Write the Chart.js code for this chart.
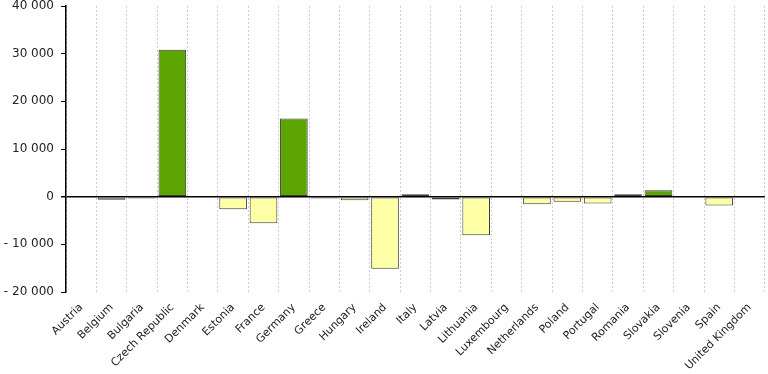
<!DOCTYPE html>
<html>
<head>
<meta charset="utf-8">
<script src="https://cdn.jsdelivr.net/npm/chart.js@4"></script>
<style>
  html, body { margin: 0; padding: 0; background: #fff; overflow: hidden; }
  #wrap { position: relative; width: 768px; height: 374px; }
</style>
</head>
<body>
<div id="wrap"><canvas id="chart"></canvas></div>
<script>
const countries = [
  "Austria", "Belgium", "Bulgaria", "Czech Republic", "Denmark", "Estonia",
  "France", "Germany", "Greece", "Hungary", "Ireland", "Italy", "Latvia",
  "Lithuania", "Luxembourg", "Netherlands", "Poland", "Portugal", "Romania",
  "Slovakia", "Slovenia", "Spain", "United Kingdom"
];
const values = [
  0, -650, -400, 30800, 0, -2650,
  -5600, 16400, -400, -750, -15100, 500, -600,
  -8100, 0, -1600, -1050, -1450, 500,
  1350, 0, -1850, 0
];
const yMin = -20000;
const yMax = 40000;
const yStep = 10000;

const GREEN = "#5ca400";
const YELLOW = "#ffffa6";

function fmt(v) {
  const s = Math.abs(v).toString().replace(/\B(?=(\d{3})+(?!\d))/g, " ");
  return v < 0 ? "- " + s : s;
}

Chart.defaults.font.family = "'DejaVu Sans', Verdana, sans-serif";
Chart.defaults.font.size = 12;
Chart.defaults.color = "#222";

const ctx = document.getElementById("chart");

new Chart(ctx, {
  type: "bar",
  data: {
    labels: countries,
    datasets: [
      {
        data: values,
        backgroundColor: values.map(v => (v >= 0 ? GREEN : YELLOW)),
        borderColor: "#3c3c3c",
        borderWidth: 1,
        borderSkipped: false,
        barPercentage: 0.91,
        categoryPercentage: 1
      }
    ]
  },
  options: {
    responsive: true,
    maintainAspectRatio: false,
    animation: false,
    layout: { padding: { top: 6, right: 2, left: 0, bottom: 0 } },
    plugins: { legend: { display: false }, tooltip: { enabled: false } },
    scales: {
      x: {
        z: 1,
        grid: { color: "#cfcfcf", lineWidth: 1, drawTicks: false, offset: true },
        border: { display: false, dash: [2, 2] },
        ticks: { autoSkip: false, minRotation: 45, maxRotation: 45, padding: 9, font: { size: 11 } },
        afterFit: s => { s.height = 82; s.paddingTop = 0; s.paddingBottom = 0; }
      },
      y: {
        min: yMin,
        max: yMax,
        grid: {
          color: c => (c.tick && c.tick.value === 0 ? "#000" : "rgba(0,0,0,0)"),
          lineWidth: c => (c.tick && c.tick.value === 0 ? 1.5 : 1),
          tickColor: "#000",
          tickLength: 5,
          drawTicks: true
        },
        border: { display: true, color: "#000", width: 1.5 },
        ticks: { stepSize: yStep, padding: 7, callback: v => fmt(v) },
        afterFit: s => { s.width = 66; s.paddingTop = 0; s.paddingBottom = 0; }
      }
    }
  }
});
</script>
</body>
</html>
